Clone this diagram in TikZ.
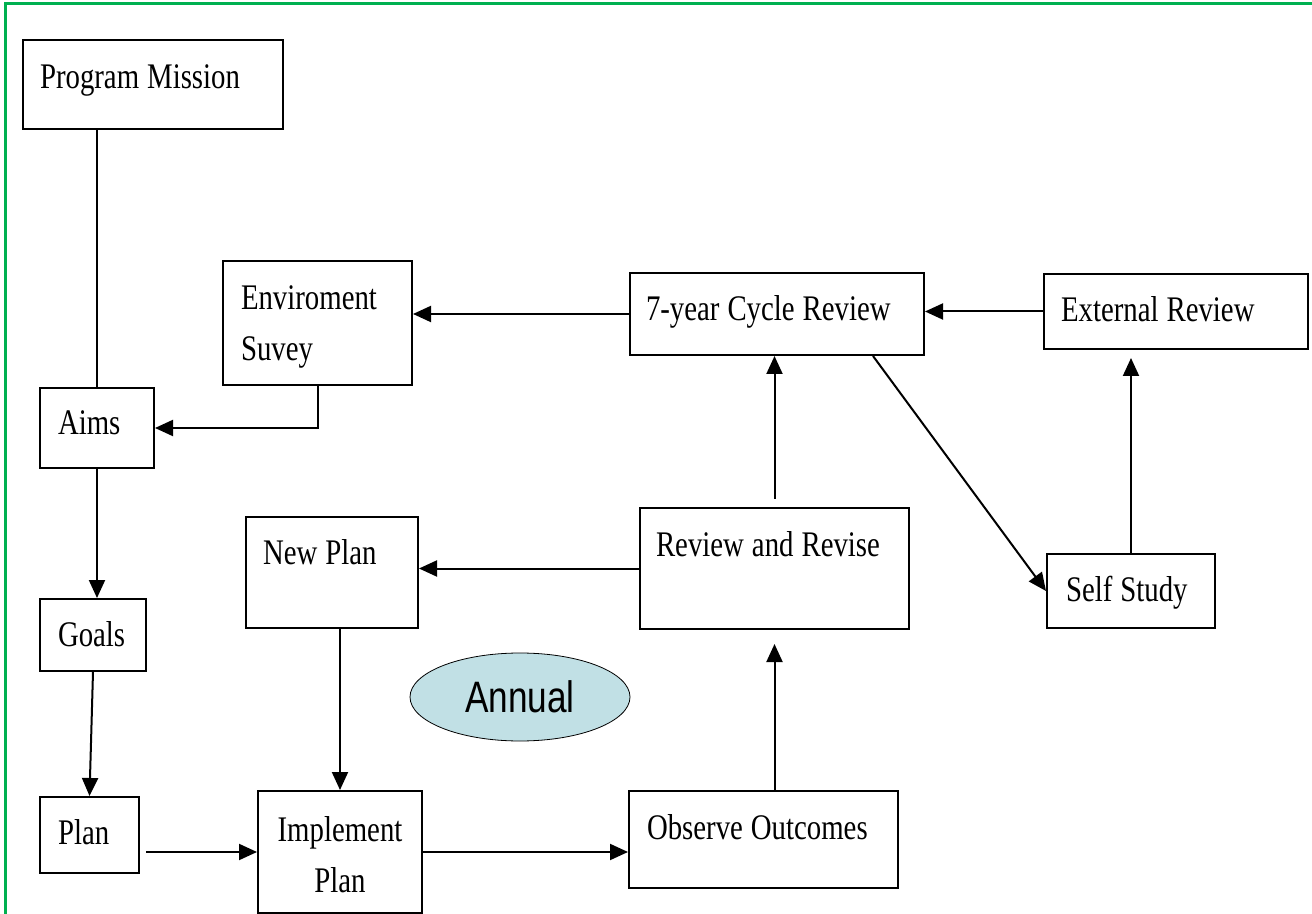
\documentclass[tikz,border=0pt]{standalone}
\usepackage{fontspec}
\setmainfont[FakeStretch=0.8]{Liberation Serif}
\newfontfamily\annfont[FakeStretch=0.8]{Liberation Sans}
\usetikzlibrary{arrows.meta,positioning,shapes.geometric}
\definecolor{framegreen}{RGB}{0,176,80}
\definecolor{annualblue}{RGB}{193,224,229}
\newcommand\boxfont{\fontsize{18}{25.5}\selectfont\spaceskip=4pt plus 1pt minus 0.5pt\relax}
\tikzset{%
   box/.style={draw, line width=1pt, anchor=north west, align=left, text height=12pt,
     font=\boxfont, execute at begin node=\boxfont},
   arr/.style={line width=1pt, -{Triangle[length=9pt, width=8pt]}},
}

\begin{document}
\begin{tikzpicture}[x=0.5pt, y=-0.5pt]
      \useasboundingbox (0,0) rectangle (1312,914);
      \draw[framegreen, line width=1.5pt] (5,914) -- (5,4) -- (1312,4);
      \node[box, inner xsep=8.5pt, inner ysep=12.5pt, text width=113pt, text depth=7.5pt] (pm) at (22,39) {Program Mission};
      \node[box, inner xsep=9pt, inner ysep=11.5pt, text width=39pt, text depth=5pt] (aims) at (39,387) {Aims};
      \node[box, inner xsep=9pt, inner ysep=11.5pt, text width=35pt, text depth=1pt] (goals) at (39,598) {Goals};
      \node[box, inner xsep=9pt, inner ysep=11.5pt, text width=31.5pt, text depth=3pt] (plan) at (39,796) {Plan};
      \node[box, inner xsep=9pt, inner ysep=12.5pt, text width=76.5pt, text depth=25pt] (env) at (222,260) {Enviroment\\Suvey};
      \node[box, inner xsep=8pt, inner ysep=12pt, text width=131pt, text depth=5pt] (cyc) at (629,272) {7-year Cycle Review};
      \node[box, inner xsep=8.5pt, inner ysep=12pt, text width=115pt, text depth=1.5pt] (ext) at (1043,273) {External Review};
      \node[box, inner xsep=9.5pt, inner ysep=11.5pt, text width=65pt, text depth=2pt] (ss) at (1046,553) {Self Study};
      \node[box, inner xsep=8pt, inner ysep=12pt, text width=118.5pt, text depth=24.5pt] (rr) at (639,507) {Review and Revise};
      \node[box, inner xsep=8.5pt, inner ysep=11.5pt, text width=69pt, text depth=20.5pt] (np) at (245,516) {New Plan};
      \node[box, align=center, inner xsep=8pt, inner ysep=13pt, text width=66pt, text depth=23pt] (imp) at (257,790) {Implement\\Plan};
      \node[box, inner xsep=9pt, inner ysep=12pt, text width=116.5pt, text depth=12.5pt] (obs) at (628,790) {Observe Outcomes};
      \node[ellipse, draw, fill=annualblue, minimum width=110pt, minimum height=44pt, inner sep=0pt,
        font=\annfont\fontsize{22}{24}\selectfont] (annual) at (520,697) {Annual};
      \draw[line width=1pt] (aims.north |- pm.south) -- (aims.north);
      \draw[arr] (env.south) |- (aims.east);
      \draw[arr] (cyc.west) -- (cyc.west -| env.east);
      \draw[arr] (ext.west) -- (ext.west -| cyc.east);
      \draw[arr] ([xshift=-26pt]cyc.south east) -- (ss.west);
      \draw[arr, shorten >=4pt] (ss.north) -- (ss.north |- ext.south);
      \draw[arr, shorten <=4pt] (rr.north) -- (rr.north |- cyc.south);
      \draw[arr] (rr.west) -- (rr.west -| np.east);
      \draw[arr] (np.south -| imp.north) -- (imp.north);
      \draw[arr, shorten >=7pt] (obs.north -| rr.south) -- (rr.south);
      \draw[arr] (imp.east) -- (imp.east -| obs.west);
      \draw[arr, shorten <=3pt] (plan.east |- imp.west) -- (imp.west);
      \draw[arr] (aims.south) -- (aims.south |- goals.north);
      \draw[arr] (goals.south) -- (plan.north);
\end{tikzpicture}
\end{document}
